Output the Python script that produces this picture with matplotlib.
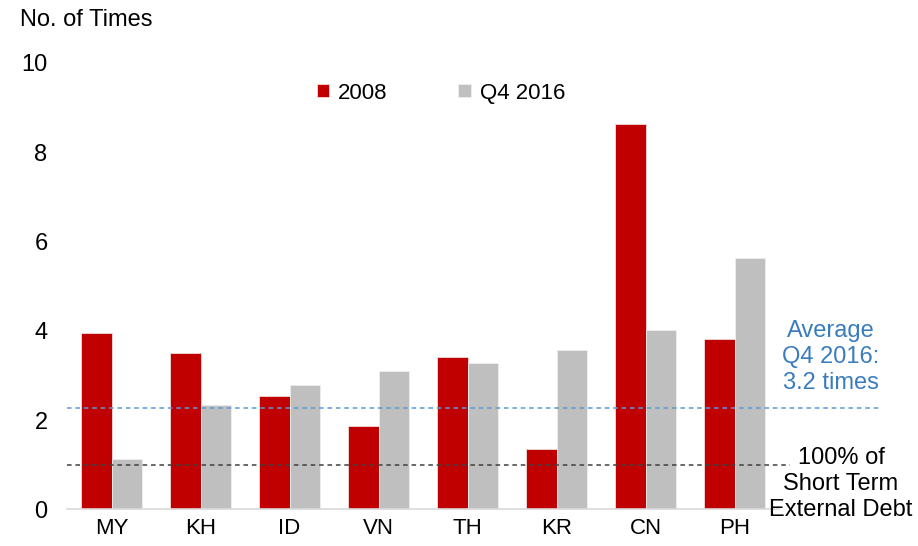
import numpy as np
import matplotlib.pyplot as plt

plt.rcParams['font.family'] = ['Liberation Sans', 'DejaVu Sans']

countries = ['MY', 'KH', 'ID', 'VN', 'TH', 'KR', 'CN', 'PH']
y2008 = [3.94, 3.49, 2.53, 1.87, 3.42, 1.36, 8.64, 3.82]
q4_2016 = [1.12, 2.33, 2.79, 3.10, 3.28, 3.56, 4.02, 5.63]
avg_line = 2.26
debt_line = 1.0

fig = plt.figure(figsize=(9.18, 5.46), dpi=100)
ax = fig.add_axes([0.073, 0.0672, 0.7756, 0.8178])

x = np.arange(len(countries))
w = 0.345
ax.bar(x - w/2, y2008, w, color='#c00000', edgecolor='#f2dcdc', linewidth=0.6, label='2008', zorder=2)
ax.bar(x + w/2, q4_2016, w, color='#bfbfbf', edgecolor='#eeeeee', linewidth=0.6, label='Q4 2016', zorder=2)

#Reference lines (run past the axes on the right)
ax.plot([-0.5, 8.63], [avg_line, avg_line], ls=(0, (3, 2.5)), color='#5b9bd5', lw=1.1, clip_on=False, zorder=3)
ax.plot([-0.5, 7.62], [debt_line, debt_line], ls=(0, (3, 2.5)), color='#404040', lw=1.1, clip_on=False, zorder=3)

ax.set_xlim(-0.5, 7.5)
ax.set_ylim(0, 10)
ax.set_yticks([0, 2, 4, 6, 8, 10])
ax.set_xticks(x)
ax.set_xticklabels(countries)
ax.tick_params(axis='both', length=0, labelsize=16, colors='#000000')
ax.tick_params(axis='y', pad=14, labelsize=17)
ax.tick_params(axis='x', pad=6)
for s in ['left', 'right', 'top']:
    ax.spines[s].set_visible(False)
ax.spines['bottom'].set_color('#d9d9d9')
ax.spines['bottom'].set_linewidth(1.2)

fig.text(20/918, 1 - 20/546, 'No. of Times', fontsize=17, va='center', ha='left')

ax.legend(loc='center', bbox_to_anchor=(0.525, 0.932), ncol=2, frameon=False,
          fontsize=16, handlelength=0.55, handleheight=0.55, handletextpad=0.4,
          columnspacing=3.2)

fig.text(831/918, 1 - 357/546, 'Average\nQ4 2016:\n3.2 times', color='#3a7cc0', fontsize=17,
         ha='center', va='center', linespacing=1.25)
fig.text(841/918, 1 - 484/546, '100% of\nShort Term\nExternal Debt', color='#000000', fontsize=17,
         ha='center', va='center', linespacing=1.25)

fig.savefig('out.png', dpi=100)
